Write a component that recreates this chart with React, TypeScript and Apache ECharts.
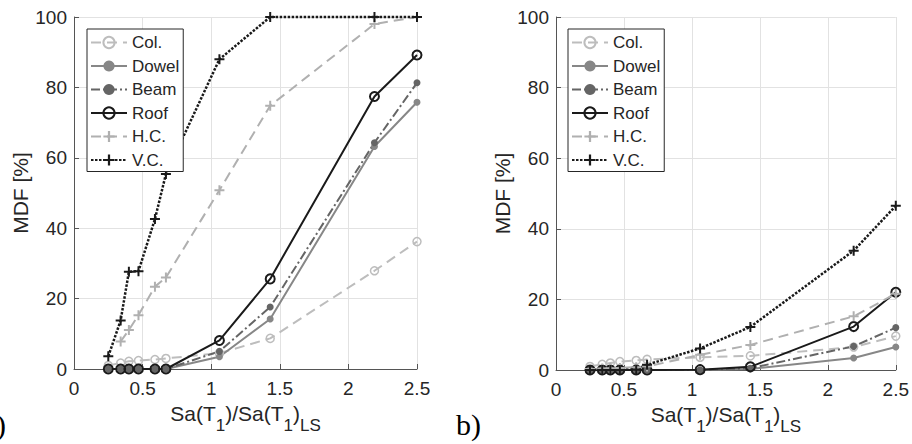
import React, { useEffect, useRef } from "react";
import * as echarts from "echarts";

// Shared x positions: Sa(T1)/Sa(T1)LS
const xValues = [0.25, 0.34, 0.4, 0.47, 0.59, 0.67, 1.06, 1.43, 2.19, 2.5];

// Panel a)
const colA = [1.0, 1.7, 2.2, 2.4, 2.7, 3.0, 4.5, 8.7, 27.9, 36.2];
const dowelA = [0, 0, 0, 0, 0, 0, 3.5, 14.2, 63.2, 75.8];
const beamA = [0, 0, 0, 0, 0, 0, 5.0, 17.6, 64.3, 81.3];
const roofA = [0, 0, 0, 0, 0, 0, 8.1, 25.6, 77.4, 89.2];
const hcA = [null, 7.8, 11.1, 15.3, 23.4, 26.0, 50.8, 74.8, 98.0, 100];
const vcA = [3.6, 13.8, 27.6, 27.8, 42.6, 55.4, 88.0, 100, 100, 100];

// Panel b)
const colB = [1.0, 1.6, 2.0, 2.4, 2.7, 3.0, 3.6, 4.0, 6.5, 9.6];
const dowelB = [0, 0, 0, 0, 0, 0, 0, 0.3, 3.4, 6.5];
const beamB = [0, 0, 0, 0, 0, 0, 0, 0.5, 6.7, 12.0];
const roofB = [0, 0, 0, 0, 0, 0, 0.1, 0.9, 12.3, 22.0];
const hcB = [0.3, 0.4, 0.5, 0.6, 0.8, 1.0, 4.3, 7.1, 15.2, 21.6];
const vcB = [0, 0, 0, 0, 0.1, 1.5, 6.1, 12.2, 33.8, 46.5];

const seriesNames = ["Col.", "Dowel", "Beam", "Roof", "H.C.", "V.C."];
const panelLabels = ["a)", "b)"];
const yAxisTitle = "MDF [%]";

const FONT = "'Liberation Sans', Arial, Helvetica, sans-serif";
const TEXT = "#262626";
const PLUS = "path://M4,0H6V4H10V6H6V10H4V6H0V4H4Z";

type Sty = {
  color: string;
  type: any;
  width: number;
  symbol: string;
  open: boolean;
  size: number;
  border: number;
};

const styles: Record<string, Sty> = {
  "Col.": { color: "#bdbdbd", type: [10, 6], width: 2, symbol: "circle", open: true, size: 8, border: 1.5 },
  Dowel: { color: "#878787", type: "solid", width: 2, symbol: "circle", open: false, size: 7, border: 0 },
  Beam: { color: "#656565", type: [9, 3, 2, 3], width: 2, symbol: "circle", open: false, size: 7, border: 0 },
  Roof: { color: "#1a1a1a", type: "solid", width: 2, symbol: "circle", open: true, size: 9, border: 2 },
  "H.C.": { color: "#b0b0b0", type: [10, 6], width: 2, symbol: PLUS, open: false, size: 10, border: 0 },
  "V.C.": { color: "#1a1a1a", type: [2.5, 1.5], width: 2.5, symbol: PLUS, open: false, size: 10, border: 0 },
};

function pairs(arr: (number | null)[]) {
  return xValues.map((x, i) => [x, arr[i]]);
}

function makeSeries(name: string, arr: (number | null)[], idx: number) {
  const s = styles[name];
  return {
    type: "line",
    name,
    xAxisIndex: idx,
    yAxisIndex: idx,
    data: pairs(arr),
    symbol: s.symbol,
    symbolSize: s.size,
    showSymbol: true,
    showAllSymbol: true,
    clip: false,
    connectNulls: false,
    lineStyle: { color: s.color, width: s.width, type: s.type },
    itemStyle: s.open
      ? { color: "rgba(255,255,255,0)", borderColor: s.color, borderWidth: s.border }
      : { color: s.color, borderWidth: 0 },
    emphasis: { disabled: true },
  };
}

function makeX(idx: number) {
  return {
    type: "value",
    gridIndex: idx,
    min: 0,
    max: 2.5,
    interval: 0.5,
    name: "{m|Sa(T}{s|1}{m|)/Sa(T}{s|1}{m|)}{s|LS}",
    nameLocation: "middle",
    nameGap: 34,
    nameTextStyle: {
      color: TEXT,
      fontFamily: FONT,
      rich: {
        m: { fontSize: 21, lineHeight: 26, verticalAlign: "top", color: TEXT, fontFamily: FONT },
        s: {
          fontSize: 17,
          lineHeight: 18,
          padding: [14, 0, 0, 0],
          verticalAlign: "top",
          color: TEXT,
          fontFamily: FONT,
        },
      },
    },
    axisLine: { show: true, onZero: false, lineStyle: { color: "#555", width: 1 } },
    axisTick: { show: true, inside: true, length: 5, lineStyle: { color: "#555" } },
    axisLabel: { fontSize: 19, color: TEXT, margin: 10, fontFamily: FONT },
    splitLine: { show: true, lineStyle: { color: "#e2e2e2", width: 1 } },
  };
}

function makeY(idx: number) {
  return {
    type: "value",
    gridIndex: idx,
    min: 0,
    max: 100,
    interval: 20,
    name: yAxisTitle,
    nameLocation: "middle",
    nameGap: 43,
    nameRotate: 90,
    nameTextStyle: { fontSize: 21, color: TEXT, fontFamily: FONT },
    axisLine: { show: true, onZero: false, lineStyle: { color: "#555", width: 1 } },
    axisTick: { show: true, inside: true, length: 5, lineStyle: { color: "#555" } },
    axisLabel: { fontSize: 19, color: TEXT, margin: 7, fontFamily: FONT },
    splitLine: { show: true, lineStyle: { color: "#e2e2e2", width: 1 } },
  };
}

function makeLegend(left: number) {
  return {
    left,
    top: 29,
    orient: "vertical",
    data: seriesNames,
    itemWidth: 36,
    itemHeight: 14,
    itemGap: 6.5,
    padding: [5, 4, 3, 3],
    borderColor: TEXT,
    borderWidth: 1,
    backgroundColor: "#fff",
    selectedMode: false,
    textStyle: { fontSize: 17, lineHeight: 17, color: TEXT, fontFamily: FONT },
  };
}

export default function App() {
  const ref = useRef<HTMLDivElement>(null);
  useEffect(() => {
    if (!ref.current) return;
    const chart = echarts.init(ref.current, null, { renderer: "svg" });
    const dataA = [colA, dowelA, beamA, roofA, hcA, vcA];
    const dataB = [colB, dowelB, beamB, roofB, hcB, vcB];
    const series: any[] = [];
    seriesNames.forEach((n, i) => series.push(makeSeries(n, dataA[i], 0)));
    seriesNames.forEach((n, i) => series.push(makeSeries(n, dataB[i], 1)));
    chart.setOption({
      animation: false,
      backgroundColor: "#fff",
      grid: [
        { left: 74, top: 17, width: 343, height: 352 },
        { left: 556, top: 17, width: 340, height: 353 },
      ],
      xAxis: [makeX(0), makeX(1)],
      yAxis: [makeY(0), makeY(1)],
      legend: [makeLegend(87), makeLegend(568)],
      series,
      graphic: [
        {
          type: "text",
          x: 6,
          y: 424,
          style: {
            text: panelLabels[0],
            font: "30px 'Liberation Serif', 'Times New Roman', serif",
            fill: "#000",
            textAlign: "right",
            textVerticalAlign: "middle",
          },
        },
        {
          type: "text",
          x: 456,
          y: 424,
          style: {
            text: panelLabels[1],
            font: "30px 'Liberation Serif', 'Times New Roman', serif",
            fill: "#000",
            textAlign: "left",
            textVerticalAlign: "middle",
          },
        },
      ],
    });
    return () => chart.dispose();
  }, []);
  return (
    <div
      ref={ref}
      style={{ position: "fixed", left: 0, top: 0, width: 912, height: 444, background: "#fff" }}
    />
  );
}
